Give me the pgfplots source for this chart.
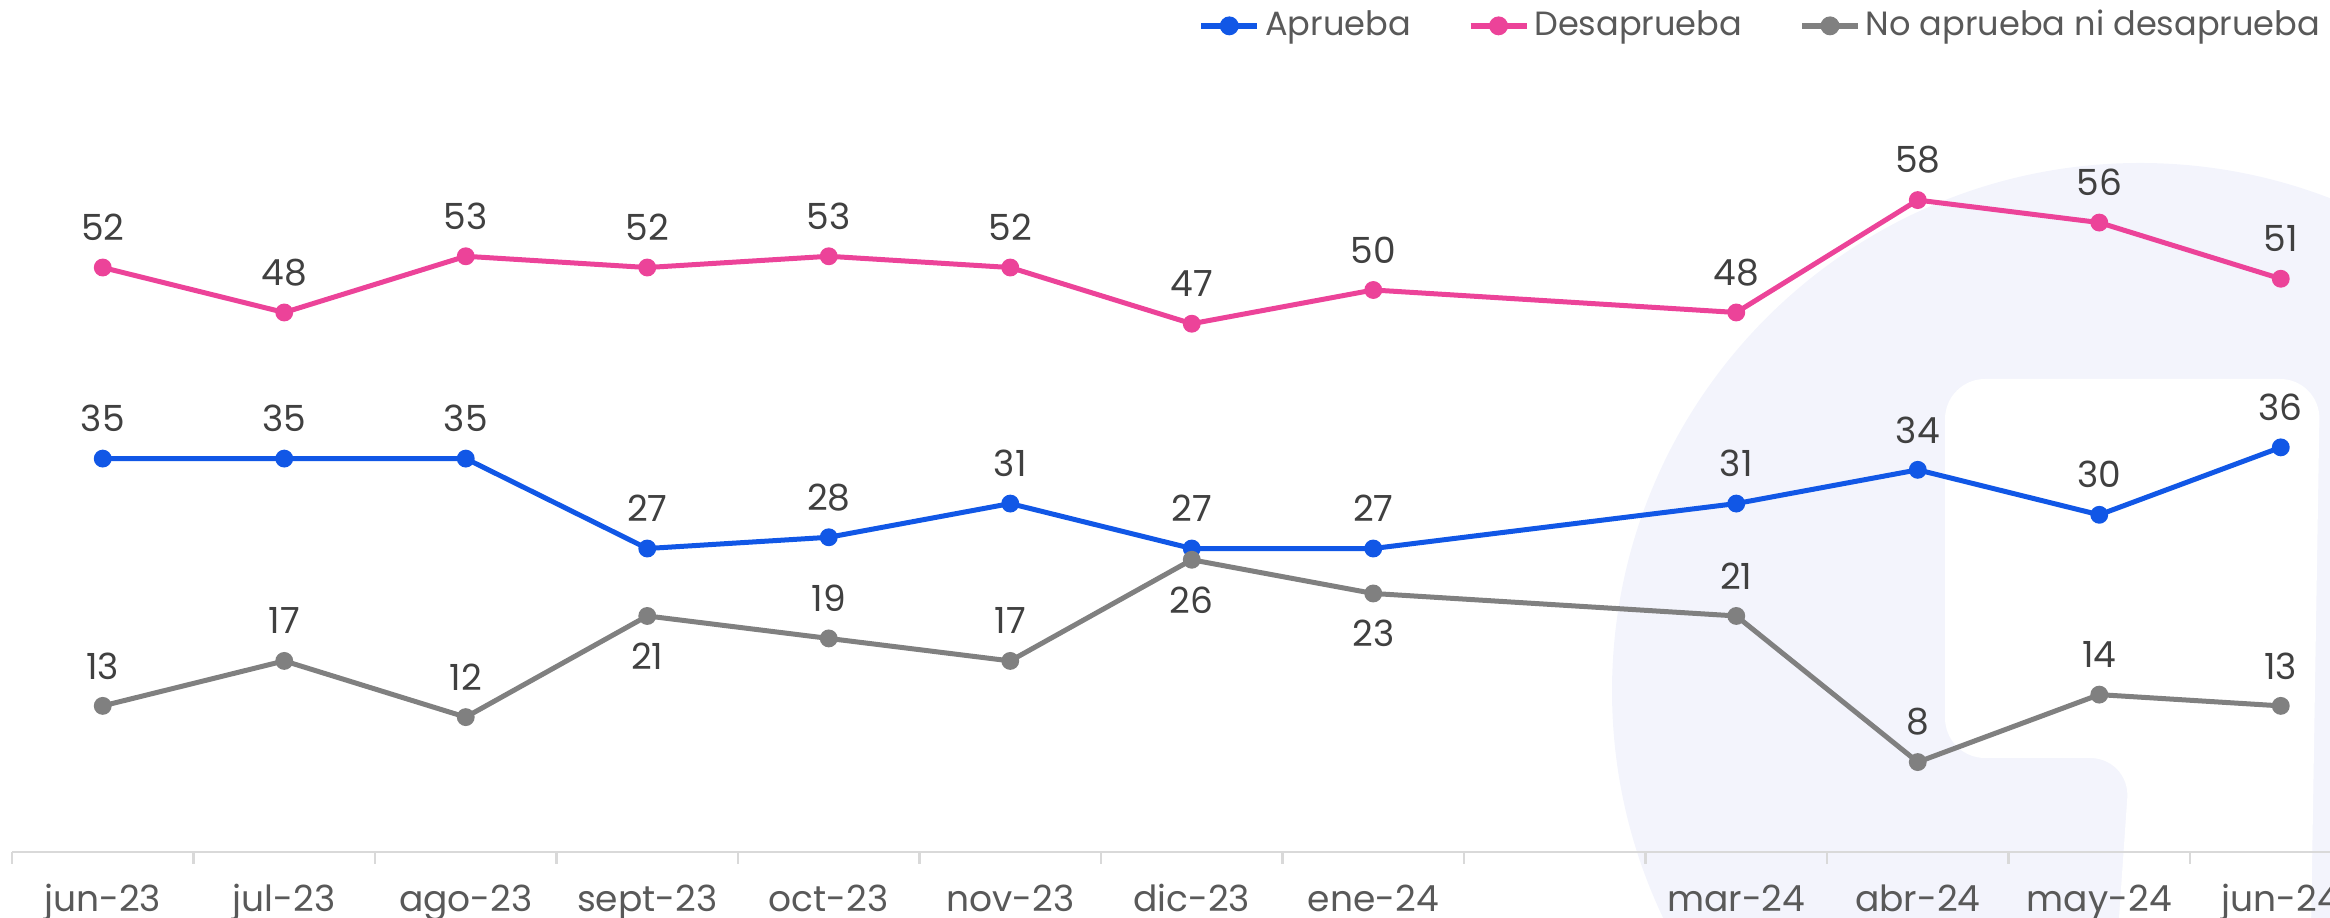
\documentclass[border=0pt]{standalone}
\usepackage{pgfplots}
\pgfplotsset{compat=1.18}
\usepackage{pgfplotstable}
\usepackage{fontspec}
\setmainfont{Poppins}

\definecolor{apr}{HTML}{1157E6}
\definecolor{des}{HTML}{EC4399}
\definecolor{neu}{HTML}{808080}
\definecolor{wm}{HTML}{F3F4FC}
\definecolor{txt}{HTML}{404040}
\definecolor{tickc}{HTML}{595959}
\definecolor{axl}{HTML}{D9D9D9}

\pgfplotsset{/pgf/number format/assume math mode=true}

% np: 1 = etiqueta arriba, -1 = abajo
\pgfplotstableread{
x  a  d  n  np
0  35 52 13 1
1  35 48 17 1
2  35 53 12 1
3  27 52 21 -1
4  28 53 19 1
5  31 52 17 1
6  27 47 26 -1
7  27 50 23 -1
9  31 48 21 1
10 34 58 8  1
11 30 56 14 1
12 36 51 13 1
}\datos

\begin{document}
\begin{tikzpicture}[font=\fontsize{9}{11}\selectfont]
\useasboundingbox (0,0) rectangle (582.5pt,229.5pt);
% marca de agua
\begin{scope}[shift={(0pt,229.5pt)}, x=0.25pt, y=-0.25pt]
  \fill[wm] (2140,691) circle[radius=132pt];
  \fill[white, rounded corners=10pt] (1945,379) -- (2320,379) -- (2310,990) -- (2114,990) -- (2130,758) -- (1945,758) -- cycle;
\end{scope}
\begin{axis}[
  at={(3pt,16.5pt)}, anchor=south west,
  scale only axis, width=589.875pt, height=196.7pt,
  xmin=-0.5, xmax=12.5, ymin=0, ymax=70,
  clip=false,
  axis x line*=bottom, axis y line=none,
  x axis line style={draw=axl, line width=0.6pt, -},
  xtick={0,...,12},
  xticklabels={jun-23,jul-23,ago-23,sept-23,oct-23,nov-23,dic-23,ene-24,,mar-24,abr-24,may-24,jun-24},
  major tick length=0pt,
  minor xtick={-0.5,0.5,...,12.5},
  minor tick length=3pt,
  tick align=outside,
  minor tick style={draw=axl, line width=0.6pt},
  xticklabel style={anchor=base, yshift=-15pt, text=tickc},
  legend columns=3,
  legend style={draw=none, fill=none, at={(axis description cs:0.9806,1.05)}, anchor=east,
    inner sep=0pt, nodes={inner sep=1.2pt, text=tickc, font=\fontsize{8.4}{10}\selectfont},
    /tikz/every even column/.append style={column sep=13pt}},
  legend image code/.code={\draw[mark repeat=2,mark phase=2,#1,line width=1.5pt] plot coordinates {(0pt,0pt) (7pt,0pt) (14pt,0pt)};},
  every node near coord/.append style={text=txt, anchor=center},
]
\addplot[apr, line width=1.25pt, mark=*, mark size=1.6pt,
  nodes near coords, every node near coord/.append style={yshift=10pt}]
  table[x=x, y=a]{\datos};
\addlegendentry{Aprueba}
\addplot[des, line width=1.25pt, mark=*, mark size=1.6pt,
  nodes near coords, every node near coord/.append style={yshift=10pt}]
  table[x=x, y=d]{\datos};
\addlegendentry{Desaprueba}
\addplot[neu, line width=1.25pt, mark=*, mark size=1.6pt,
  nodes near coords, visualization depends on={\thisrow{np} \as \lpos},
  every node near coord/.append style={yshift=\lpos*10pt}]
  table[x=x, y=n]{\datos};
\addlegendentry{No aprueba ni desaprueba}
\end{axis}
\end{tikzpicture}
\end{document}
